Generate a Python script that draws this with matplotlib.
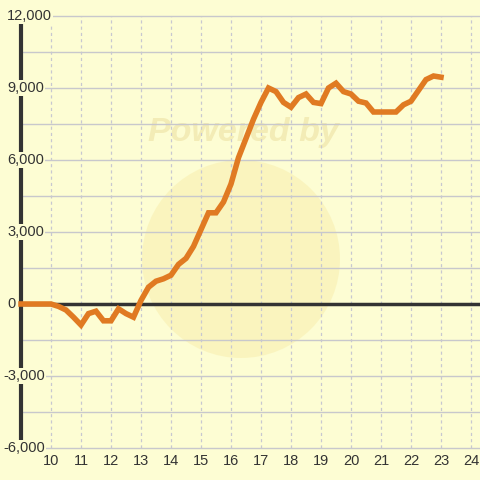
import numpy as np
import matplotlib.pyplot as plt
from matplotlib.patches import Circle

plt.rcParams['font.family'] = ['Liberation Sans', 'DejaVu Sans']

# valores
horas = [9.0, 10.0, 10.25, 10.5, 10.75, 11.0, 11.25, 11.5, 11.75, 12.0,
         12.25, 12.5, 12.75, 13.0, 13.25, 13.5, 13.75, 14.0, 14.25, 14.5,
         14.75, 15.0, 15.25, 15.5, 15.75, 16.0, 16.25, 16.5, 16.75, 17.0,
         17.25, 17.5, 17.75, 18.0, 18.25, 18.5, 18.75, 19.0, 19.25, 19.5,
         19.75, 20.0, 20.25, 20.5, 20.75, 21.0, 21.25, 21.5, 21.75, 22.0,
         22.25, 22.5, 22.75, 23.0]
valores = [0, 0, -100, -250, -550, -875, -400, -300, -700, -700,
           -200, -400, -550, 150, 700, 950, 1050, 1200, 1650, 1900,
           2400, 3100, 3800, 3800, 4250, 5000, 6100, 6900, 7700, 8400,
           9000, 8850, 8400, 8200, 8600, 8750, 8400, 8350, 9000, 9200,
           8850, 8750, 8450, 8375, 8000, 8000, 8000, 8000, 8300, 8450,
           8900, 9350, 9500, 9450]

xticks = list(range(10, 25))
yticks = [12000, 9000, 6000, 3000, 0, -3000, -6000]
ygrid = np.arange(-6000, 12001, 1500)

fondo = '#FDFDD3'
fig = plt.figure(figsize=(4.8, 4.8), dpi=100, facecolor=fondo)
ax = fig.add_axes([0, 0, 1, 1])
ax.set_facecolor(fondo)
ax.set_xlim(10 - 51 / 30, 10 + 429 / 30)
ax.set_ylim(-176 * 3000 / 72, 304 * 3000 / 72)
ax.axis('off')

# marca de agua
ax.add_patch(Circle((241 / 480, 1 - 259 / 480), 99 / 480, transform=ax.transAxes,
                    color='#F7EBA6', alpha=0.45, zorder=0, lw=0))
ax.text(243 / 480, 1 - 133 / 480, 'Powered by', transform=ax.transAxes,
        fontsize=24.5, fontweight='bold', style='italic', color='#F3ECB6',
        ha='center', va='center', zorder=0.5)

# rejilla
for v in ygrid:
    ax.plot([9.0, 24.3], [v, v], color='#C8C8CC', lw=1, zorder=1)
for t in xticks:
    ax.plot([t, t], [-6000, 12000], color='#C8C8D0', lw=0.9, ls=(0, (2.5, 2.5)), zorder=1)

ax.plot([9.0, 9.0], [-6000, 12000], color='#333333', lw=3, zorder=2)
ax.plot([9.0, 24.3], [0, 0], color='#333333', lw=2.5, zorder=2)

ax.plot(horas, valores, color='#E07A22', lw=4, solid_joinstyle='miter', zorder=4)

for v in yticks:
    txt = format(v, ',')
    x0 = 3 if v < 0 else 7
    ax.text(x0 / 480, v, txt, transform=ax.get_yaxis_transform(), fontsize=10.5,
            color='#333333', ha='left', va='center', zorder=3,
            bbox=dict(facecolor=fondo, edgecolor='none', pad=1))
for t in xticks:
    ax.text(t, -6000 - 13 * 3000 / 72, str(t), fontsize=10.5, color='#333333',
            ha='center', va='center', zorder=3)

fig.savefig('out.png', dpi=100, facecolor=fondo)
